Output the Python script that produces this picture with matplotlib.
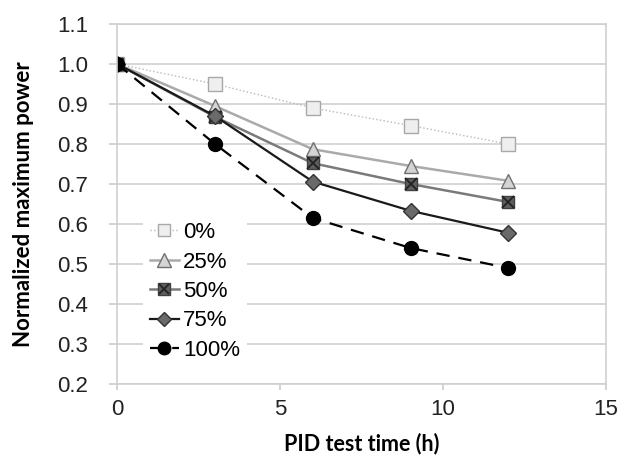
import numpy as np
import matplotlib
matplotlib.use('Agg')
import matplotlib.pyplot as plt

plt.rcParams['font.family'] = ['Liberation Sans', 'DejaVu Sans']

hours = [0, 3, 6, 9, 12]
p0 = [1.0, 0.95, 0.89, 0.846, 0.80]
p25 = [1.0, 0.895, 0.787, 0.745, 0.708]
p50 = [1.0, 0.868, 0.752, 0.70, 0.655]
p75 = [1.0, 0.87, 0.706, 0.633, 0.578]
p100 = [1.0, 0.80, 0.615, 0.54, 0.49]

fig = plt.figure(figsize=(6.2, 4.59), dpi=100)
ax = fig.add_axes([0.189, 0.1634, 0.7887, 0.7843])

h0, = ax.plot(hours, p0, ls=':', color='#b8b8b8', lw=1, marker='s', ms=9.5,
              mfc='#efefef', mec='#a8a8a8')
h25, = ax.plot(hours, p25, ls='-', color='#aaaaaa', lw=1.8, marker='^', ms=10.5,
               mfc='#d4d4d4', mec='#707070')
h50, = ax.plot(hours, p50, ls='-', color='#7a7a7a', lw=1.8, marker='s', ms=9,
               mfc='#5e5e5e', mec='#404040')
h50x, = ax.plot(hours, p50, ls='none', marker='x', ms=8, mew=1.3, color='#222222')
h75, = ax.plot(hours, p75, ls='-', color='#1a1a1a', lw=1.6, marker='D', ms=8,
               mfc='#6a6a6a', mec='#333333')
h100, = ax.plot(hours, p100, ls=(0, (6, 4)), color='#000000', lw=1.6, marker='o', ms=10,
                mfc='#000000', mec='#000000')

ax.set_xlim(0, 15)
ax.set_ylim(0.2, 1.1)
ax.set_xticks([0, 5, 10, 15])
yt = np.arange(0.2, 1.11, 0.1)
ax.set_yticks(yt)
ax.set_yticklabels(['%.1f' % v for v in yt])
ax.tick_params(labelsize=16, labelcolor='#222222', color='#cccccc', width=1.2)
ax.tick_params(axis='y', length=6, pad=15)
ax.tick_params(axis='x', length=4, pad=7)
ax.grid(axis='y', color='#d0d0d0', lw=1.2)
ax.set_axisbelow(True)
for s in ax.spines.values():
    s.set_color('#d0d0d0')
    s.set_linewidth(1.2)

ax.set_xlabel('PID test time (h)', fontsize=15.5, fontweight='bold', family='Lato')
ax.set_ylabel('Normalized maximum power', fontsize=16, fontweight='bold', family='Lato')
ax.yaxis.set_label_coords(-0.17, 0.5)
ax.xaxis.set_label_coords(0.5, -0.135)

leg = ax.legend([h0, h25, (h50, h50x), h75, h100], ['0%', '25%', '50%', '75%', '100%'],
                loc='center', bbox_to_anchor=(0.3145, 0.365), bbox_transform=fig.transFigure,
                frameon=True, fontsize=16, handlelength=1.3, handletextpad=0.2,
                labelspacing=0.38, borderpad=0.3, fancybox=False, markerscale=0.9)
leg.get_frame().set_edgecolor('none')
leg.get_frame().set_facecolor('white')
leg.get_frame().set_alpha(1)

fig.savefig('out.png', dpi=100)
